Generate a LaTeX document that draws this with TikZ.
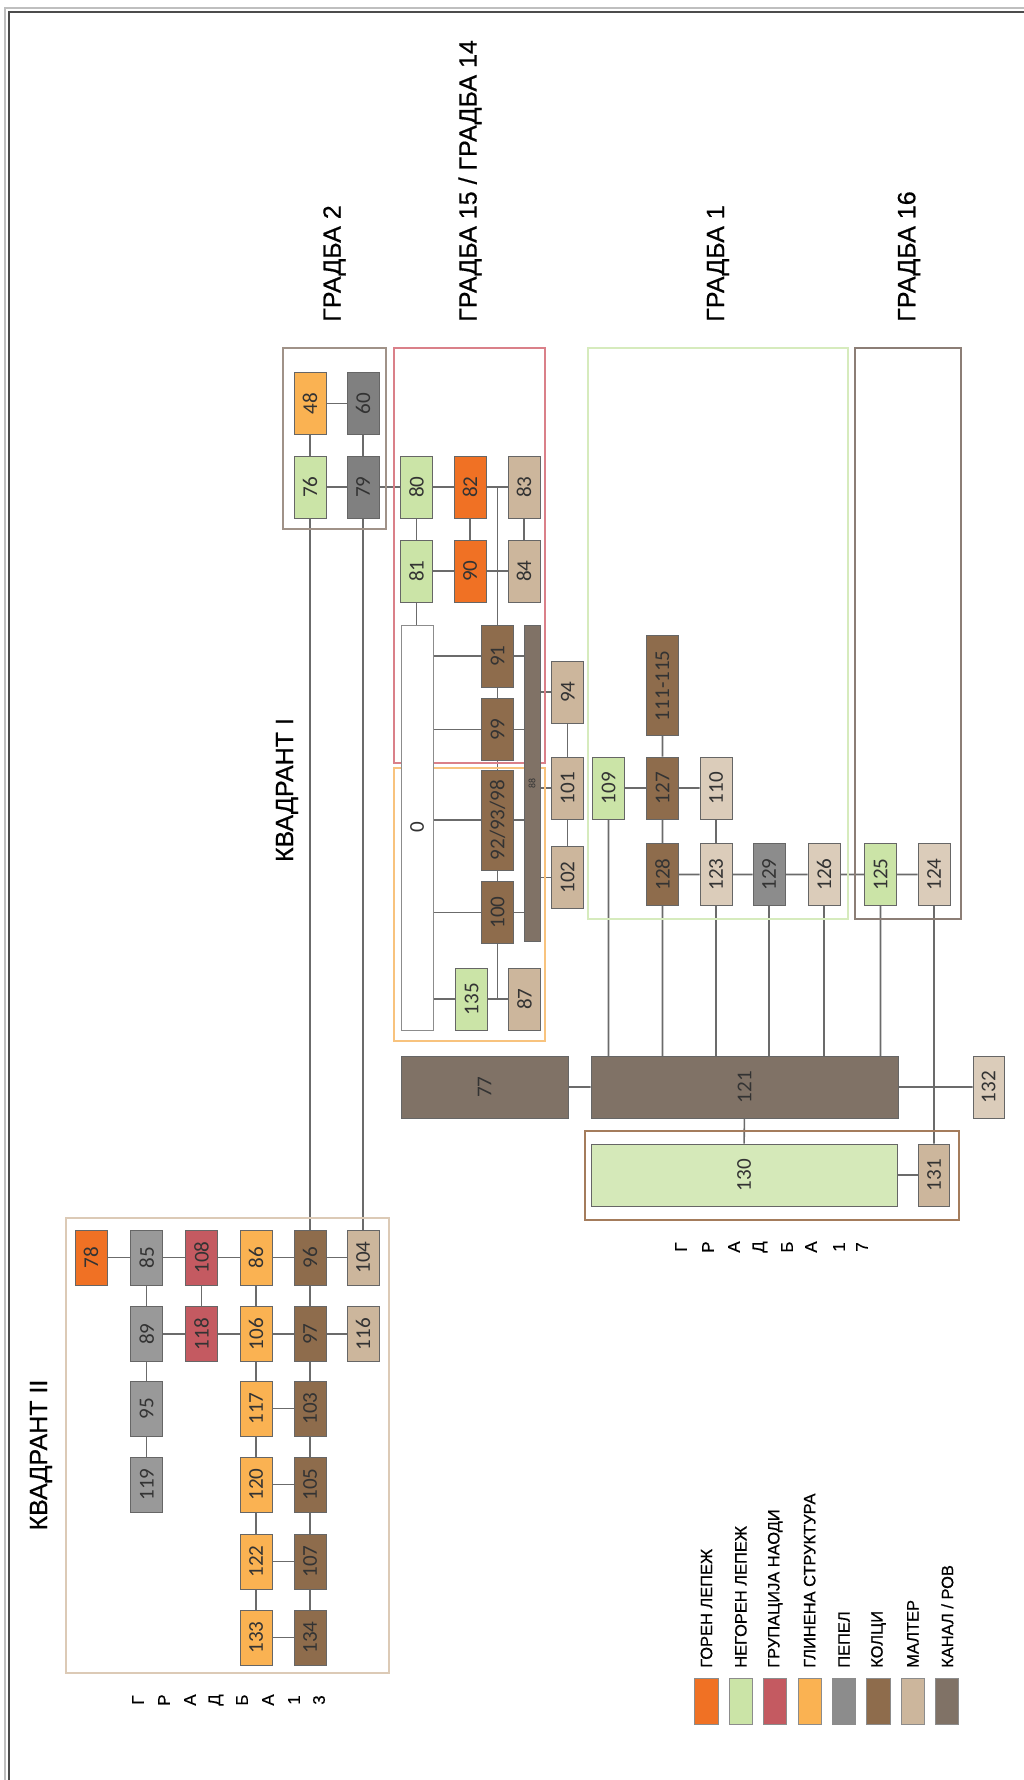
\documentclass[tikz,border=0pt]{standalone}
\usepackage{fontspec}
\setmainfont{Liberation Sans}[RawFeature={embolden=0.6}]
\newfontfamily\brojfont{Carlito}
\usetikzlibrary{backgrounds}

\definecolor{gorenboja}{RGB}{240,113,36}
\definecolor{negorenboja}{RGB}{203,228,167}
\definecolor{grupboja}{RGB}{196,90,97}
\definecolor{glinaboja}{RGB}{250,178,82}
\definecolor{pepelboja}{RGB}{140,140,140}
\definecolor{kolciboja}{RGB}{142,108,76}
\definecolor{malterboja}{RGB}{204,182,156}
\definecolor{kanalboja}{RGB}{128,114,102}

\begin{document}
\begin{tikzpicture}[
  x=0.25mm, y=-0.25mm,
  box/.style={draw=black!60, line width=0.6pt, rotate=90, inner sep=0pt,
    minimum width=15.5mm, minimum height=8mm, text=black!80,
    font=\brojfont\fontsize{15}{15}\selectfont},
  mbox/.style={box, minimum width=13.75mm},
  goren/.style={fill=gorenboja},
  negoren/.style={fill=negorenboja},
  grup/.style={fill=grupboja},
  glina/.style={fill=glinaboja},
  pepel/.style={fill=pepelboja},
  tpepel/.style={fill=black!50},
  spepel/.style={fill=black!40},
  kolci/.style={fill=kolciboja},
  malter/.style={fill=malterboja},
  smalter/.style={fill=malterboja!70!white},
  kanal/.style={fill=kanalboja},
  veza/.style={draw=black!58, line width=1.1pt},
  ramka/.style={line width=1.4pt},
  naslov/.style={rotate=90, inner sep=0pt, font=\fontsize{17.8}{18}\selectfont},
  legbox/.style={draw=black!45, line width=0.6pt, inner sep=0pt,
    minimum width=5.8mm, minimum height=11.5mm},
  legtext/.style={rotate=90, anchor=west, inner sep=0pt, font=\fontsize{11.7}{12}\selectfont},
  bukva/.style={rotate=90, inner sep=0pt, font=\fontsize{12}{12}\selectfont}
]
\useasboundingbox (0,0) rectangle (1024,1780);

% outer frame
\draw[line width=1pt, black!25] (5,1790) |- (1035,8);
\draw[line width=1.5pt, black!70] (9,1790) |- (1035,12);

% groups
\draw[ramka, draw={rgb,255:red,160;green,146;blue,136}] (283,348) rectangle (386,529);
\draw[ramka, draw={rgb,255:red,218;green,128;blue,137}] (394,348) rectangle (545,763);
\draw[ramka, draw={rgb,255:red,248;green,195;blue,126}] (394,768) rectangle (545,1041);
\draw[ramka, draw={rgb,255:red,214;green,235;blue,189}] (588,348) rectangle (848,919);
\draw[ramka, draw={rgb,255:red,140;green,126;blue,118}] (855,348) rectangle (961,919);
\draw[ramka, draw={rgb,255:red,164;green,124;blue,92}] (585,1131) rectangle (959,1220);
\draw[ramka, draw={rgb,255:red,220;green,202;blue,182}] (66,1218) rectangle (389,1673);

\node[naslov, anchor=west] (t2) at (334.5,322) {ГРАДБА 2};
\node[naslov, anchor=west] (t15) at (470,322) {ГРАДБА 15 / ГРАДБА 14};
\node[naslov, anchor=west] (t1) at (718,322) {ГРАДБА 1};
\node[naslov, anchor=west] (t16) at (909,322) {ГРАДБА 16};
\node[naslov] (tk1) at (287,790) {КВАДРАНТ I};
\node[naslov] (tk2) at (41,1455) {КВАДРАНТ II};

% gradba 2
\node[box, glina] (n48) at (310,403.5) {48};
\node[box, tpepel] (n60) at (363,403.5) {60};
\node[box, negoren] (n76) at (310,487) {76};
\node[box, tpepel] (n79) at (363,487) {79};

% gradba 15 / 14
\node[box, negoren] (n80) at (416.5,487) {80};
\node[box, goren] (n82) at (470,487) {82};
\node[box, malter] (n83) at (524,487) {83};
\node[box, negoren] (n81) at (416.5,571) {81};
\node[box, goren] (n90) at (470,571) {90};
\node[box, malter] (n84) at (524,571) {84};
\node[box, fill=white, draw=black!45, minimum width=101.25mm] (n0) at (417,827.5) {0};
\node[box, kolci] (n91) at (497.5,656) {91};
\node[box, kolci] (n99) at (497.5,729.5) {99};
\node[box, kolci, minimum width=25mm] (n92) at (497.5,820) {92/93/98};
\node[box, kolci] (n100) at (497.5,912.5) {100};
\node[box, kanal, minimum width=79mm, minimum height=4mm,
  font=\brojfont\fontsize{7}{7}\selectfont] (n88) at (532,783.7) {88};
\node[box, negoren] (n135) at (471.7,999) {135};
\node[box, malter] (n87) at (524.5,999) {87};
\node[box, malter] (n94) at (567.7,692) {94};
\node[box, malter] (n101) at (567.7,788) {101};
\node[box, malter] (n102) at (567.7,877.5) {102};

% gradba 1 / 16
\node[box, negoren] (n109) at (608.5,788) {109};
\node[box, kolci] (n127) at (662.5,788) {127};
\node[box, kolci, minimum width=25mm] (n111) at (662.5,685.7) {111-115};
\node[box, smalter] (n110) at (716,788) {110};
\node[box, kolci] (n128) at (662.5,874.5) {128};
\node[box, smalter] (n123) at (716,874.5) {123};
\node[box, pepel] (n129) at (769,874.5) {129};
\node[box, smalter] (n126) at (824,874.5) {126};
\node[box, negoren] (n125) at (880.5,874.5) {125};
\node[box, smalter] (n124) at (934,874.5) {124};

% kanal, gradba 17
\node[box, kanal, minimum height=41.75mm] (n77) at (484.5,1087) {77};
\node[box, kanal, minimum height=76.75mm] (n121) at (744.5,1087) {121};
\node[box, smalter, minimum height=7.75mm] (n132) at (988.5,1087) {132};
\node[box, fill=negorenboja!80!white, minimum height=76.5mm] (n130) at (744,1175) {130};
\node[box, malter, minimum height=7.75mm] (n131) at (934,1175) {131};

% kvadrant II
\node[mbox, goren] (n78) at (91,1257.5) {78};
\node[mbox, spepel] (n85) at (146.7,1257.5) {85};
\node[mbox, grup] (n108) at (201.5,1257.5) {108};
\node[mbox, glina] (n86) at (256,1257.5) {86};
\node[mbox, kolci] (n96) at (310,1257.5) {96};
\node[mbox, malter] (n104) at (363,1257.5) {104};
\node[mbox, spepel] (n89) at (146.7,1334) {89};
\node[mbox, grup] (n118) at (201.5,1334) {118};
\node[mbox, glina] (n106) at (256,1334) {106};
\node[mbox, kolci] (n97) at (310,1334) {97};
\node[mbox, malter] (n116) at (363,1334) {116};
\node[mbox, spepel] (n95) at (146.7,1408.5) {95};
\node[mbox, glina] (n117) at (256,1408.5) {117};
\node[mbox, kolci] (n103) at (310,1408.5) {103};
\node[mbox, spepel] (n119) at (146.7,1484.5) {119};
\node[mbox, glina] (n120) at (256,1484.5) {120};
\node[mbox, kolci] (n105) at (310,1484.5) {105};
\node[mbox, glina] (n122) at (256,1561.5) {122};
\node[mbox, kolci] (n107) at (310,1561.5) {107};
\node[mbox, glina] (n133) at (256,1637.5) {133};
\node[mbox, kolci] (n134) at (310,1637.5) {134};

\foreach \ch/\px [count=\i] in {Г/138,Р/164,А/190,Д/216,Б/242,А/268,1/294,3/319}
  \node[bukva] (g13-\i) at (\px,1700) {\ch};
\foreach \ch/\px [count=\i] in {Г/681,Р/708,А/734,Д/760,Б/787,А/811,1/839,7/862}
  \node[bukva] (g17-\i) at (\px,1247) {\ch};

% connectors
\begin{scope}[on background layer]
  \draw[veza] (n48) -- (n60) (n48) -- (n76) (n60) -- (n79)
    (n76) -- (n79) -- (n80) -- (n82) -- (n83)
    (n80) -- (n81) -- (n90) -- (n84) (n82) -- (n90) (n83) -- (n84)
    (n81) -- (n81 |- n0)
    (n82 -| n91) -- (n91) -- (n99) -- (n92) -- (n100) -- (n100 |- n135)
    (n0 |- n91) -- (n91 -| n88) (n0 |- n99) -- (n99 -| n88)
    (n0 |- n92) -- (n92 -| n88) (n0 |- n100) -- (n100 -| n88)
    (n0 |- n135) -- (n87)
    (n94 -| n88) -- (n94) (n101 -| n88) -- (n101) (n102 -| n88) -- (n102)
    (n94) -- (n101) -- (n102);
  \draw[veza] (n109) -- (n127) -- (n110) (n111) -- (n127) -- (n128)
    (n110) -- (n123) (n128) -- (n123) -- (n129) -- (n126) -- (n125) -- (n124)
    (n109) -- (n109 |- n121) (n128) -- (n128 |- n121) (n123) -- (n123 |- n121)
    (n129) -- (n129 |- n121) (n126) -- (n126 |- n121) (n125) -- (n125 |- n121)
    (n124) -- (n131) (n77) -- (n121) -- (n132) (n121) -- (n130) -- (n131);
  \draw[veza] (n76) -- (n96) (n79) -- (n104)
    (n78) -- (n85) -- (n108) -- (n86) -- (n96) -- (n104)
    (n89) -- (n118) -- (n106) -- (n97) -- (n116)
    (n85) -- (n89) -- (n95) -- (n119) (n108) -- (n118)
    (n86) -- (n106) -- (n117) -- (n120) -- (n122) -- (n133)
    (n96) -- (n97) -- (n103) -- (n105) -- (n107) -- (n134)
    (n117) -- (n103) (n120) -- (n105) (n122) -- (n107) (n133) -- (n134);
\end{scope}

% legend
\foreach \boja/\tekst [count=\i from 0] in {gorenboja/ГОРЕН ЛЕПЕЖ, negorenboja/НЕГОРЕН ЛЕПЕЖ,
    grupboja/ГРУПАЦИЈА НАОДИ, glinaboja/ГЛИНЕНА СТРУКТУРА, pepelboja/ПЕПЕЛ,
    kolciboja/КОЛЦИ, malterboja/МАЛТЕР, kanalboja/{КАНАЛ / РОВ}} {
  \node[legbox, fill=\boja] (leg\i) at (706.5+34.4*\i,1701) {};
  \node[legtext] (legt\i) at (706.5+34.4*\i,1668) {\tekst};
}
\end{tikzpicture}
\end{document}
